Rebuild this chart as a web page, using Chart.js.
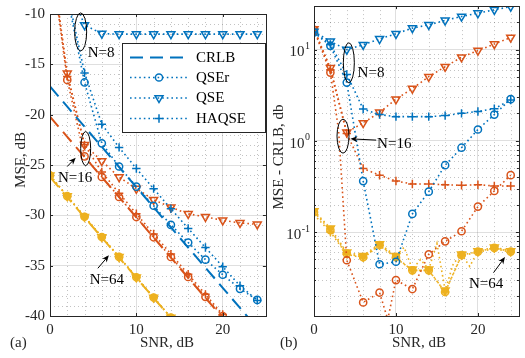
<!DOCTYPE html>
<html><head><meta charset="utf-8">
<script src="https://cdn.jsdelivr.net/npm/chart.js@4.4.1/dist/chart.umd.min.js"></script>
<style>
html,body{margin:0;padding:0;background:#fff;width:525px;height:358px;overflow:hidden}
#wa{position:absolute;left:0;top:0;width:272px;height:358px}
#wb{position:absolute;left:264px;top:0;width:261px;height:358px}
canvas{display:block}
</style></head><body>
<div id="wa"><canvas id="ca" width="272" height="358"></canvas></div>
<div id="wb"><canvas id="cb" width="261" height="358"></canvas></div>
<script>
// ---------- data ----------
const snr = [0,2,4,6,8,10,12,14,16,18,20,22,24];
const legendLabels = ['CRLB','QSEr','QSE','HAQSE'];
const groupLabels = ['N=8','N=16','N=64'];
const xTicks = [0,10,20];
const yTicksA = [-10,-15,-20,-25,-30,-35,-40];
const yTicksB = [0.1,1,10];

// (a) MSE, dB
const crlbN8a   = [-17.2,-19.2,-21.2,-23.2,-25.2,-27.2,-29.2,-31.2,-33.2,-35.2,-37.2,-39.2,-41.2];
const crlbN16a  = [-20.2,-22.2,-24.2,-26.2,-28.2,-30.2,-32.2,-34.2,-36.2,-38.2,-40.2,-42.2,-44.2];
const crlbN64a  = [-26.2,-28.2,-30.2,-32.2,-34.2,-36.2,-38.2,-40.2,-42.2,-44.2,-46.2,-48.2,-50.2];
const qserN8a   = [-1.8,-8.2,-16.8,-22.85,-25.15,-27.15,-29.05,-30.95,-32.7,-34.4,-35.9,-37.3,-38.4];
const qseN8a    = [-1.4,-6.9,-11.1,-11.95,-12.0,-12.0,-12.0,-12.0,-12.0,-12.0,-12.0,-12.0,-12.0];
const haqseN8a  = [-1.6,-7.9,-15.85,-20.95,-23.25,-25.35,-27.35,-29.35,-31.3,-33.2,-35.1,-37.0,-38.45];
const qserN16a  = [-3.7,-16.55,-24.15,-26.18,-28.18,-30.17,-32.18,-34.14,-36.12,-38.1,-40.0,-41.9,-43.8];
const qseN16a   = [-3.4,-15.9,-23.0,-24.6,-26.2,-27.35,-28.45,-29.2,-29.85,-30.15,-30.5,-30.75,-30.9];
const haqseN16a = [-3.4,-16.2,-23.0,-25.7,-27.8,-29.85,-31.85,-33.85,-35.85,-37.85,-39.85,-41.9,-43.9];
const qserN64a  = [-26.04,-28.1,-30.14,-32.15,-34.13,-36.15,-38.16,-40.16,-42.18,-44.15,-46.14,-48.13,-50.14];
const qseN64a   = [-26.03,-28.09,-30.14,-32.15,-34.13,-36.15,-38.16,-40.16,-42.18,-44.14,-46.14,-48.13,-50.14];
const haqseN64a = [-26.05,-28.1,-30.15,-32.16,-34.14,-36.16,-38.17,-40.17,-42.18,-44.15,-46.14,-48.14,-50.14];

// (b) MSE - CRLB, db
const qserN8b   = [15.4,11.0,4.35,0.362,0.0443,0.0472,0.158,0.277,0.54,0.84,1.33,1.94,2.86];
const qseN8b    = [15.8,12.3,10.0,11.3,13.1,14.9,17.2,18.7,20.9,23.1,25.1,27.3,29.6];
const haqseN8b  = [15.6,11.4,5.35,2.23,1.94,1.84,1.84,1.84,1.89,2.0,2.1,2.25,2.8];
const qserN16b  = [16.5,5.6,0.049,0.0169,0.0217,0.0297,0.0237,0.057,0.079,0.102,0.19,0.282,0.42];
const qseN16b   = [16.8,6.3,1.24,1.57,2.05,2.86,3.74,5.05,6.49,8.26,9.75,11.5,13.6];
const haqseN16b = [16.8,6.0,1.2,0.497,0.42,0.362,0.336,0.336,0.33,0.325,0.33,0.32,0.32];
const qserN64b  = [0.165,0.105,0.058,0.053,0.072,0.053,0.038,0.038,0.022,0.056,0.061,0.067,0.061];
const qseN64b   = [0.17,0.11,0.06,0.055,0.074,0.055,0.039,0.039,0.023,0.057,0.062,0.068,0.062];
const haqseN64b = [0.155,0.10,0.057,0.052,0.071,0.052,0.038,0.038,0.022,0.055,0.06,0.066,0.06];
// extra (unmarked) points where the dotted curves visibly dip/peak between markers
const qserN16bExtraSnr = [3, 9];
const qserN16bExtra    = [1.3, 0.011];
const qseN64bExtraSnr  = [11, 13, 15, 17, 19];
const qseN64bExtra     = [0.068, 0.05, 0.075, 0.045, 0.042];

// ---------- helpers ----------
const FONT = "'Liberation Serif','Times New Roman',serif";
const BLUE = '#0072BD', ORANGE = '#D95319', YELLOW = '#EDB120';
const INK = '#262626';

function pts(xs, ys, exs, eys) {
  const p = xs.map((x, i) => ({x, y: ys[i], m: true}));
  if (exs) exs.forEach((x, i) => p.push({x, y: eys[i], m: false}));
  return p.sort((a, b) => a.x - b.x);
}
function ds(label, data, color, kind) {
  const d = {label, data, borderColor: color, backgroundColor: color, tension: 0, fill: false,
    pointBorderColor: color, pointBorderWidth: 1.5, pointHoverRadius: 0};
  if (kind === 'crlb') return Object.assign(d, {borderDash: [13, 7], borderWidth: 2, pointRadius: 0});
  Object.assign(d, {borderDash: [1.6, 3], borderWidth: 1.6});
  const filled = color === YELLOW;
  const rad = (r) => (ctx) => (ctx.raw && ctx.raw.m ? r : 0);
  if (kind === 'qser') Object.assign(d, {pointStyle: 'circle', pointRadius: rad(3.6), pointBackgroundColor: filled ? 'rgba(237,177,32,0.6)' : 'rgba(0,0,0,0)'});
  if (kind === 'qse') Object.assign(d, {pointStyle: 'triangle', pointRotation: 180, pointRadius: rad(4.6), pointBackgroundColor: filled ? YELLOW : 'rgba(0,0,0,0)'});
  if (kind === 'haqse') Object.assign(d, {pointStyle: 'cross', pointRadius: rad(4.2), pointBackgroundColor: color});
  return d;
}
function arrow(ctx, x1, y1, x2, y2) {
  const a = Math.atan2(y2 - y1, x2 - x1), L = 7, W = 3;
  ctx.beginPath(); ctx.moveTo(x1, y1); ctx.lineTo(x2 - Math.cos(a) * L * 0.6, y2 - Math.sin(a) * L * 0.6); ctx.stroke();
  ctx.beginPath(); ctx.moveTo(x2, y2);
  ctx.lineTo(x2 - Math.cos(a) * L + Math.sin(a) * W, y2 - Math.sin(a) * L - Math.cos(a) * W);
  ctx.lineTo(x2 - Math.cos(a) * L * 0.7, y2 - Math.sin(a) * L * 0.7);
  ctx.lineTo(x2 - Math.cos(a) * L - Math.sin(a) * W, y2 - Math.sin(a) * L + Math.cos(a) * W);
  ctx.closePath(); ctx.fill();
}
function minorGrid(chart, xs, ys) {
  const {ctx, chartArea: ca, scales} = chart;
  ctx.save(); ctx.strokeStyle = 'rgba(38,38,38,0.28)'; ctx.lineWidth = 1; ctx.setLineDash([1, 3]);
  xs.forEach(v => { const x = Math.round(scales.x.getPixelForValue(v)) + 0.5; ctx.beginPath(); ctx.moveTo(x, ca.top); ctx.lineTo(x, ca.bottom); ctx.stroke(); });
  ys.forEach(v => { const y = Math.round(scales.y.getPixelForValue(v)) + 0.5; ctx.beginPath(); ctx.moveTo(ca.left, y); ctx.lineTo(ca.right, y); ctx.stroke(); });
  ctx.restore();
}
function boxTicks(chart, xt, yt, yminor) {
  const {ctx, chartArea: ca, scales} = chart;
  ctx.save(); ctx.strokeStyle = INK; ctx.lineWidth = 1; ctx.setLineDash([]);
  ctx.strokeRect(Math.round(ca.left) + 0.5, Math.round(ca.top) + 0.5, Math.round(ca.right - ca.left), Math.round(ca.bottom - ca.top));
  ctx.beginPath();
  xt.forEach(v => { const x = Math.round(scales.x.getPixelForValue(v)) + 0.5; ctx.moveTo(x, ca.bottom); ctx.lineTo(x, ca.bottom - 3); ctx.moveTo(x, ca.top); ctx.lineTo(x, ca.top + 3); });
  yt.forEach(v => { const y = Math.round(scales.y.getPixelForValue(v)) + 0.5; ctx.moveTo(ca.left, y); ctx.lineTo(ca.left + 3, y); ctx.moveTo(ca.right, y); ctx.lineTo(ca.right - 3, y); });
  (yminor || []).forEach(v => { const y = Math.round(scales.y.getPixelForValue(v)) + 0.5; ctx.moveTo(ca.left, y); ctx.lineTo(ca.left + 2, y); ctx.moveTo(ca.right, y); ctx.lineTo(ca.right - 2, y); });
  ctx.stroke(); ctx.restore();
}
function ellipse(ctx, cx, cy, rx, ry) { ctx.beginPath(); ctx.ellipse(cx, cy, rx, ry, 0, 0, Math.PI * 2); ctx.stroke(); }

const xMinor = [2,4,6,8,12,14,16,18,22,24];
const yMinorA = [];
for (let v = -11; v > -40; v--) if (v % 5 !== 0) yMinorA.push(v);
const yMinorB = [];
[0.01, 0.1, 1, 10].forEach(d => { for (let k = 2; k <= 9; k++) { const v = k * d; if (v > 0.012 && v < 30) yMinorB.push(v); } });

function xScale() {
  return {type: 'linear', min: 0, max: 25,
    afterFit: s => { s.height = 42; },
    afterBuildTicks: s => { s.ticks = xTicks.map(v => ({value: v})); },
    grid: {color: 'rgba(38,38,38,0.15)', lineWidth: 1, drawTicks: false},
    border: {display: false},
    ticks: {padding: 5, color: INK, font: {family: FONT, size: 15}, maxRotation: 0}};
}

// ---------- chart (a) ----------
const dsA = [
  ds(legendLabels[0], pts(snr, crlbN8a), BLUE, 'crlb'),
  ds(legendLabels[1], pts(snr, qserN8a), BLUE, 'qser'),
  ds(legendLabels[2], pts(snr, qseN8a), BLUE, 'qse'),
  ds(legendLabels[3], pts(snr, haqseN8a), BLUE, 'haqse'),
  ds(legendLabels[0], pts(snr, crlbN16a), ORANGE, 'crlb'),
  ds(legendLabels[1], pts(snr, qserN16a), ORANGE, 'qser'),
  ds(legendLabels[2], pts(snr, qseN16a), ORANGE, 'qse'),
  ds(legendLabels[3], pts(snr, haqseN16a), ORANGE, 'haqse'),
  ds(legendLabels[0], pts(snr, crlbN64a), YELLOW, 'crlb'),
  ds(legendLabels[1], pts(snr, qserN64a), YELLOW, 'qser'),
  ds(legendLabels[2], pts(snr, qseN64a), YELLOW, 'qse'),
  ds(legendLabels[3], pts(snr, haqseN64a), YELLOW, 'haqse'),
];
const plugA = {
  id: 'decoA',
  beforeDatasetsDraw(chart) { minorGrid(chart, xMinor, yMinorA); },
  afterDatasetsDraw(chart) {
    boxTicks(chart, xTicks, yTicksA);
    const {ctx, scales: {x, y}} = chart;
    const px = v => x.getPixelForValue(v), py = v => y.getPixelForValue(v);
    ctx.save();
    // legend
    const L = 122.5, T = 43.5, R = 265.5, B = 132.5;
    ctx.fillStyle = '#fff'; ctx.fillRect(L, T, R - L, B - T);
    ctx.strokeStyle = INK; ctx.lineWidth = 1; ctx.strokeRect(L, T, R - L, B - T);
    const rows = [57.5, 77.5, 98, 118.5];
    const kinds = ['crlb', 'qser', 'qse', 'haqse'];
    rows.forEach((ry, i) => {
      ctx.strokeStyle = BLUE; ctx.fillStyle = BLUE;
      if (kinds[i] === 'crlb') { ctx.lineWidth = 2; ctx.setLineDash([13, 7]); }
      else { ctx.lineWidth = 1.6; ctx.setLineDash([1.6, 3]); }
      ctx.beginPath(); ctx.moveTo(130, ry); ctx.lineTo(188, ry); ctx.stroke();
      ctx.setLineDash([]); ctx.lineWidth = 1.5;
      if (kinds[i] === 'qser') { ctx.beginPath(); ctx.arc(159, ry, 3.6, 0, Math.PI * 2); ctx.stroke(); }
      if (kinds[i] === 'qse') { ctx.beginPath(); ctx.moveTo(159 - 4, ry - 2.3); ctx.lineTo(159 + 4, ry - 2.3); ctx.lineTo(159, ry + 4.6); ctx.closePath(); ctx.stroke(); }
      if (kinds[i] === 'haqse') { ctx.beginPath(); ctx.moveTo(154.8, ry); ctx.lineTo(163.2, ry); ctx.moveTo(159, ry - 4.2); ctx.lineTo(159, ry + 4.2); ctx.stroke(); }
      ctx.fillStyle = '#000'; ctx.font = '15px ' + FONT; ctx.textBaseline = 'middle'; ctx.textAlign = 'left';
      ctx.fillText(legendLabels[i], 196, ry + 0.5);
    });
    // annotations
    ctx.strokeStyle = '#000'; ctx.fillStyle = '#000'; ctx.lineWidth = 1; ctx.setLineDash([]);
    ctx.font = '15px ' + FONT; ctx.textBaseline = 'alphabetic'; ctx.textAlign = 'left';
    ellipse(ctx, px(3.55), py(-11.78), 6, 19);
    ctx.fillText(groupLabels[0], px(4.36), py(-14.23));
    ellipse(ctx, px(4.13), py(-23.37), 5, 17);
    arrow(ctx, px(2.0), py(-25.14), px(2.98), py(-24.28));
    ctx.fillText(groupLabels[1], px(0.92), py(-26.73));
    arrow(ctx, px(5.54), py(-35.26), px(6.82), py(-33.97));
    ctx.fillText(groupLabels[2], px(4.59), py(-36.83));
    // titles
    ctx.fillStyle = INK;
    ctx.textAlign = 'center'; ctx.textBaseline = 'middle';
    ctx.fillText('SNR, dB', 167, 343);
    ctx.textAlign = 'left'; ctx.fillText('(a)', 10, 343);
    ctx.save(); ctx.translate(21.5, 160); ctx.rotate(-Math.PI / 2); ctx.textAlign = 'center'; ctx.fillText('MSE, dB', 0, 0); ctx.restore();
    ctx.restore();
  }
};
new Chart(document.getElementById('ca'), {
  type: 'line',
  data: {datasets: dsA},
  options: {
    responsive: false, animation: false, devicePixelRatio: 1,
    layout: {padding: {top: 4, right: 4, left: 0, bottom: 0}},
    plugins: {legend: {display: false}, tooltip: {enabled: false}},
    scales: {
      x: xScale(),
      y: {type: 'linear', min: -40, max: -10,
        afterFit: s => { s.width = 50; },
        afterBuildTicks: s => { s.ticks = yTicksA.map(v => ({value: v})); },
        grid: {color: 'rgba(38,38,38,0.15)', lineWidth: 1, drawTicks: false},
        border: {display: false},
        ticks: {padding: 5, color: INK, font: {family: FONT, size: 15}}}
    }
  },
  plugins: [plugA]
});

// ---------- chart (b) ----------
const dsB = [
  ds(legendLabels[1], pts(snr, qserN8b), BLUE, 'qser'),
  ds(legendLabels[2], pts(snr, qseN8b), BLUE, 'qse'),
  ds(legendLabels[3], pts(snr, haqseN8b), BLUE, 'haqse'),
  ds(legendLabels[1], pts(snr, qserN16b, qserN16bExtraSnr, qserN16bExtra), ORANGE, 'qser'),
  ds(legendLabels[2], pts(snr, qseN16b), ORANGE, 'qse'),
  ds(legendLabels[3], pts(snr, haqseN16b), ORANGE, 'haqse'),
  ds(legendLabels[1], pts(snr, qserN64b), YELLOW, 'qser'),
  ds(legendLabels[2], pts(snr, qseN64b, qseN64bExtraSnr, qseN64bExtra), YELLOW, 'qse'),
  ds(legendLabels[3], pts(snr, haqseN64b), YELLOW, 'haqse'),
];
const exps = ['-1', '0', '1'];
const plugB = {
  id: 'decoB',
  beforeDatasetsDraw(chart) { minorGrid(chart, xMinor, yMinorB); },
  afterDatasetsDraw(chart) {
    boxTicks(chart, xTicks, yTicksB, yMinorB);
    const {ctx, scales: {x, y}} = chart;
    const px = v => x.getPixelForValue(v), py = v => y.getPixelForValue(v);
    ctx.save();
    // y tick labels 10^n
    ctx.fillStyle = INK; ctx.textBaseline = 'alphabetic'; ctx.textAlign = 'right';
    yTicksB.forEach((v, i) => {
      const yy = py(v);
      ctx.font = '10px ' + FONT; const ew = ctx.measureText(exps[i]).width;
      ctx.fillText(exps[i], 46, yy - 0.5);
      ctx.font = '15px ' + FONT; ctx.fillText('10', 46 - ew - 0.5, yy + 6.8);
    });
    // annotations
    ctx.strokeStyle = '#000'; ctx.fillStyle = '#000'; ctx.lineWidth = 1;
    ctx.font = '15px ' + FONT; ctx.textAlign = 'left';
    ellipse(ctx, px(4.25), py(7.17), 5.5, 20);
    ctx.fillText(groupLabels[0], px(5.32), py(5.05));
    ellipse(ctx, px(3.54), py(1.125), 6, 17);
    arrow(ctx, px(7.58), py(1.018), px(4.45), py(1.051));
    ctx.fillText(groupLabels[1], px(7.7), py(0.827));
    arrow(ctx, px(21.9), py(0.0358), px(23.3), py(0.0531));
    ctx.fillText(groupLabels[2], px(18.9), py(0.0244));
    // titles
    ctx.fillStyle = INK; ctx.textAlign = 'center'; ctx.textBaseline = 'middle';
    ctx.fillText('SNR, dB', 155, 343);
    ctx.textAlign = 'left'; ctx.fillText('(b)', 16, 343);
    ctx.save(); ctx.translate(15, 157); ctx.rotate(-Math.PI / 2); ctx.textAlign = 'center'; ctx.fillText('MSE - CRLB, db', 0, 0); ctx.restore();
    ctx.restore();
  }
};
new Chart(document.getElementById('cb'), {
  type: 'line',
  data: {datasets: dsB},
  options: {
    responsive: false, animation: false, devicePixelRatio: 1,
    layout: {padding: {top: 4, right: 1, left: 0, bottom: 0}},
    plugins: {legend: {display: false}, tooltip: {enabled: false}},
    scales: {
      x: xScale(),
      y: {type: 'logarithmic', min: 0.012, max: 30,
        afterFit: s => { s.width = 50; },
        afterBuildTicks: s => { s.ticks = yTicksB.map(v => ({value: v})); },
        grid: {color: 'rgba(38,38,38,0.15)', lineWidth: 1, drawTicks: false},
        border: {display: false},
        ticks: {display: false}}
    }
  },
  plugins: [plugB]
});
</script>
</body></html>
